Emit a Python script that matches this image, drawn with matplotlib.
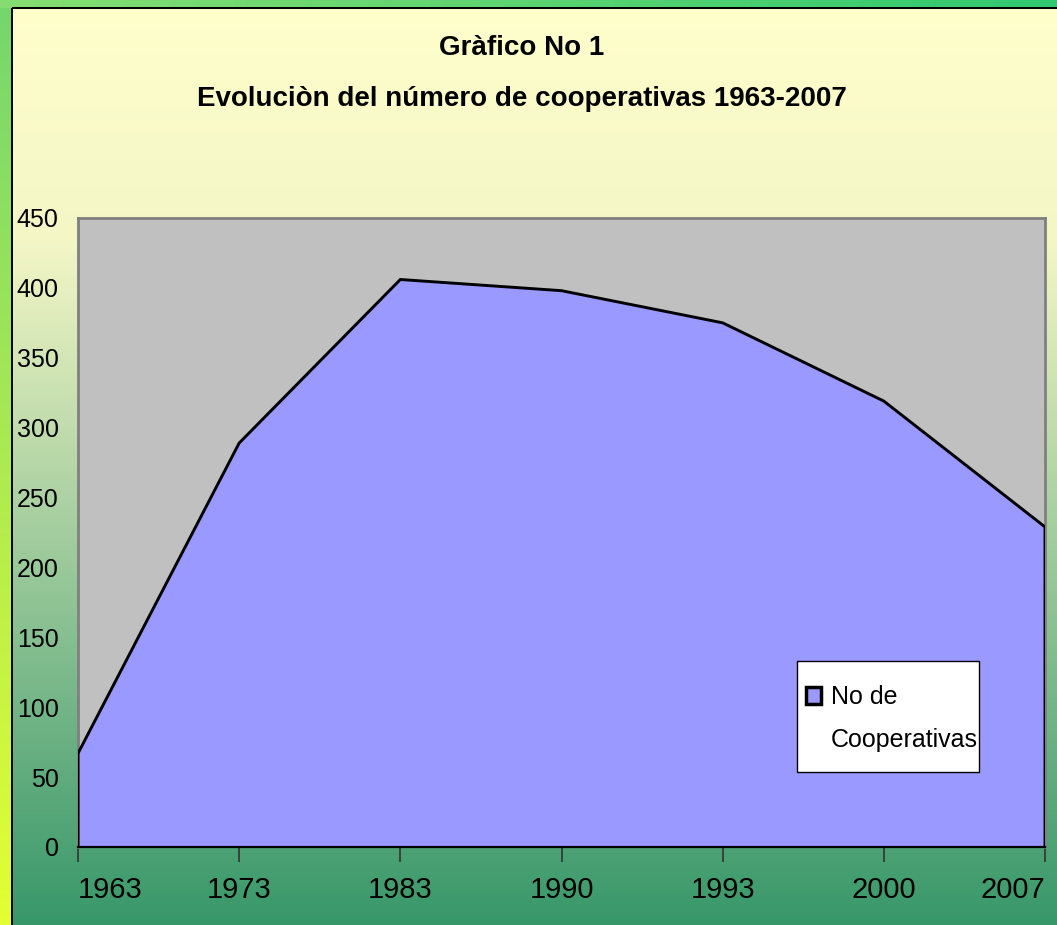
import numpy as np
import matplotlib
matplotlib.use("Agg")
from matplotlib import pyplot as plt
from matplotlib.patches import Patch, Rectangle

# data
years = ["1963", "1973", "1983", "1990", "1993", "2000", "2007"]
cooperativas = [67, 289, 406, 398, 375, 319, 229]
y_ticks = [0, 50, 100, 150, 200, 250, 300, 350, 400, 450]

title_1 = "Gràfico No 1"
title_2 = "Evoluciòn del número de cooperativas 1963-2007"
legend_lines = ["No de", "Cooperativas"]

plt.rcParams["font.family"] = ["Liberation Sans", "DejaVu Sans"]

W, H = 1057, 925
fig = plt.figure(figsize=(W / 100, H / 100), dpi=100)


def hexrgb(h):
    h = h.lstrip("#")
    return np.array([int(h[i:i + 2], 16) for i in (0, 2, 4)]) / 255.0


# background picture: slide gradient + chart area gradient
img = np.zeros((H, W, 3))
yy = np.arange(H)[:, None] / (H - 1)
xx = np.arange(W)[None, :] / (W - 1)

top_c, bot_c = hexrgb("#74d66e"), hexrgb("#e4ff33")
img[:, :] = top_c * (1 - yy[..., None]) + bot_c * yy[..., None]
strip_l, strip_r = hexrgb("#86de72"), hexrgb("#30c870")
img[:8, :] = strip_l * (1 - xx[..., None]) + strip_r * xx[..., None]

c_top, c_mid, c_bot = hexrgb("#ffffcc"), hexrgb("#f4f6c6"), hexrgb("#379769")
area = np.zeros((H, 3))
for r in range(H):
    if r < 240:
        t = r / 240
        area[r] = c_top * (1 - t) + c_mid * t
    else:
        t = (r - 240) / (H - 240)
        area[r] = c_mid * (1 - t) + c_bot * t
img[8:, 12:] = area[8:, None, :]
img[7:9, 12:] = 0
img[8:, 11:13] = 0

bg = fig.add_axes([0, 0, 1, 1], zorder=-10)
bg.imshow(img, aspect="auto", extent=[0, 1, 0, 1], interpolation="bilinear")
bg.set_axis_off()

# titles
fig.text(522 / W, 1 - 48 / H, title_1, ha="center", va="center",
         fontsize=20, fontweight="bold")
fig.text(522 / W, 1 - 99 / H, title_2, ha="center", va="center",
         fontsize=20, fontweight="bold")

x0, x1, y0, y1 = 78, 1045, 218, 847
ax = fig.add_axes([x0 / W, 1 - y1 / H, (x1 - x0) / W, (y1 - y0) / H])
ax.set_facecolor("#c0c0c0")

x = np.arange(len(years))
ax.fill_between(x, 0, cooperativas, facecolor="#9999ff", edgecolor="none", zorder=2)
ax.plot(np.r_[x[0], x, x[-1]], np.r_[0, cooperativas, 0], color="black", lw=2.1,
        zorder=3, solid_joinstyle="miter")

ax.set_xlim(0, len(years) - 1)
ax.set_ylim(0, 450)
ax.set_yticks(y_ticks)
ax.set_yticklabels([str(v) for v in y_ticks], fontsize=18)
ax.set_xticks(x)
ax.set_xticklabels(years, fontsize=21)
labels = ax.get_xticklabels()
labels[0].set_ha("left")
labels[-1].set_ha("right")

ax.tick_params(axis="y", length=0, pad=14)
ax.tick_params(axis="x", length=11, width=1.2, color="#333333", pad=10)

for s in ["top", "right", "left"]:
    ax.spines[s].set_color("#808080")
    ax.spines[s].set_linewidth(2)
ax.spines["bottom"].set_color("black")
ax.spines["bottom"].set_linewidth(1.6)


def ax_frac(px, py):
    return (px - x0) / (x1 - x0), (y1 - py) / (y1 - y0)


# legend box
bx, by = ax_frac(797, 772)
bw = (979 - 797) / (x1 - x0)
bh = (772 - 661) / (y1 - y0)
ax.add_patch(Rectangle((bx, by), bw, bh, transform=ax.transAxes, facecolor="white",
                       edgecolor="black", lw=1, zorder=5))

handles = [Patch(facecolor="#9999ff", edgecolor="black", linewidth=2.5),
           Patch(facecolor="none", edgecolor="none")]
leg = ax.legend(handles, legend_lines, loc="upper left",
                bbox_to_anchor=ax_frac(806, 685), fontsize=18, frameon=False,
                borderpad=0, handlelength=0.6, handleheight=0.7,
                handletextpad=0.4, labelspacing=0.75, borderaxespad=0)
leg.set_zorder(6)

fig.savefig("out.png", dpi=100)
